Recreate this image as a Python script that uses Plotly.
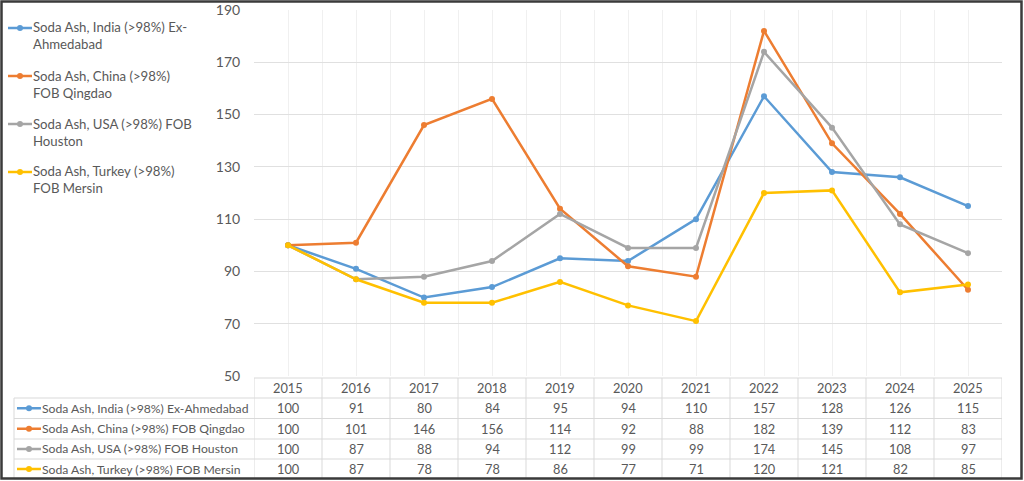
import plotly.graph_objects as go

years = [2015, 2016, 2017, 2018, 2019, 2020, 2021, 2022, 2023, 2024, 2025]
series_names = [
    "Soda Ash, India (>98%) Ex-Ahmedabad",
    "Soda Ash, China (>98%) FOB Qingdao",
    "Soda Ash, USA (>98%) FOB Houston",
    "Soda Ash, Turkey (>98%) FOB Mersin",
]
legend_labels = [
    "Soda Ash, India (>98%) Ex-<br>Ahmedabad",
    "Soda Ash, China (>98%)<br>FOB Qingdao",
    "Soda Ash, USA (>98%) FOB<br>Houston",
    "Soda Ash, Turkey (>98%)<br>FOB Mersin",
]
india = [100, 91, 80, 84, 95, 94, 110, 157, 128, 126, 115]
china = [100, 101, 146, 156, 114, 92, 88, 182, 139, 112, 83]
usa = [100, 87, 88, 94, 112, 99, 99, 174, 145, 108, 97]
turkey = [100, 87, 78, 78, 86, 77, 71, 120, 121, 82, 85]
y_ticks = [50, 70, 90, 110, 130, 150, 170, 190]

all_values = [india, china, usa, turkey]
colors = ["#5B9BD5", "#ED7D31", "#A5A5A5", "#FFC000"]

W, H = 1024, 481
L, R, T, B = 254, 1002, 10, 376  # plot area pixels
FONT = "Lato"
TXT = "#595959"
GRID_T = "#d9d9d9"
FS = 12.8


def px(x):
    return (x - L) / (R - L)


def py(y):
    return (B - y) / (B - T)


fig = go.Figure()
for name, vals, col in zip(series_names, all_values, colors):
    fig.add_trace(go.Scatter(
        x=years, y=vals, name=name, mode="lines+markers",
        line=dict(color=col, width=2.5),
        marker=dict(color=col, size=6),
        showlegend=False,
    ))

shapes = []
annotations = []

# manual legend at the left
for i, (lab, col) in enumerate(zip(legend_labels, colors)):
    yc = 28 + 48 * i
    shapes.append(dict(type="line", xref="paper", yref="paper",
                       x0=px(8), x1=px(32), y0=py(yc), y1=py(yc),
                       line=dict(color=col, width=2.5)))
    shapes.append(dict(type="circle", xref="paper", yref="paper",
                       x0=px(17), x1=px(23), y0=py(yc - 3), y1=py(yc + 3),
                       fillcolor=col, line=dict(color=col, width=0)))
    annotations.append(dict(xref="paper", yref="paper", x=px(31), y=py(yc - 10.5),
                            xanchor="left", yanchor="top", align="left",
                            text=lab, showarrow=False,
                            font=dict(family=FONT, size=13.2, color=TXT)))

# data table
row_edges = [378, 398, 418.5, 439, 459, 479]
for i, yv in enumerate(row_edges):
    x0 = L if i == 0 else 14
    shapes.append(dict(type="line", xref="paper", yref="paper",
                       x0=px(x0), x1=px(R), y0=py(yv), y1=py(yv),
                       line=dict(color=GRID_T, width=1)))
# vertical lines
shapes.append(dict(type="line", xref="paper", yref="paper",
                   x0=px(14), x1=px(14), y0=py(398), y1=py(479),
                   line=dict(color=GRID_T, width=1)))
for k in range(len(years) + 1):
    xv = years[0] - 0.5 + k
    shapes.append(dict(type="line", xref="x", yref="paper",
                       x0=xv, x1=xv, y0=py(378), y1=py(479),
                       line=dict(color=GRID_T, width=1)))

for yr in years:
    annotations.append(dict(xref="x", yref="paper", x=yr, y=py(388),
                            text=str(yr), showarrow=False,
                            xanchor="center", yanchor="middle",
                            font=dict(family=FONT, size=FS, color=TXT)))

for r, (name, vals, col) in enumerate(zip(series_names, all_values, colors)):
    yc = (row_edges[r + 1] + row_edges[r + 2]) / 2
    shapes.append(dict(type="line", xref="paper", yref="paper",
                       x0=px(17), x1=px(41), y0=py(yc), y1=py(yc),
                       line=dict(color=col, width=2.5)))
    shapes.append(dict(type="circle", xref="paper", yref="paper",
                       x0=px(26), x1=px(32), y0=py(yc - 3), y1=py(yc + 3),
                       fillcolor=col, line=dict(color=col, width=0)))
    annotations.append(dict(xref="paper", yref="paper", x=px(40), y=py(yc),
                            text=name, showarrow=False,
                            xanchor="left", yanchor="middle",
                            font=dict(family=FONT, size=12.2, color=TXT)))
    for yr, v in zip(years, vals):
        annotations.append(dict(xref="x", yref="paper", x=yr, y=py(yc),
                                text=str(v), showarrow=False,
                                xanchor="center", yanchor="middle",
                                font=dict(family=FONT, size=FS, color=TXT)))

# outer frame
shapes.append(dict(type="rect", xref="paper", yref="paper",
                   x0=px(1.5), x1=px(1021.5), y0=py(1.5), y1=py(478.5),
                   line=dict(color="#3a3a3a", width=2.5)))

fig.update_layout(
    width=W, height=H,
    margin=dict(l=L, r=W - R, t=T, b=H - B, autoexpand=False),
    paper_bgcolor="white", plot_bgcolor="white",
    font=dict(family=FONT, size=FS, color=TXT),
    xaxis=dict(range=[years[0] - 0.5, years[-1] + 0.5], tick0=years[0] - 0.5,
               dtick=0.5, showticklabels=False, showgrid=True,
               gridcolor="#f0f0f0", gridwidth=1, zeroline=False, showline=False,
               fixedrange=True, automargin=False),
    yaxis=dict(range=[y_ticks[0], y_ticks[-1]], tickvals=y_ticks,
               showgrid=True, gridcolor="#e0e0e0", gridwidth=1,
               zeroline=False, showline=False, ticks="outside", ticklen=10,
               tickcolor="rgba(0,0,0,0)", automargin=False,
               tickfont=dict(family=FONT, size=14, color=TXT), fixedrange=True),
    shapes=shapes,
    annotations=annotations,
)

fig.write_html(
    "out.html",
    config={"displayModeBar": False},
    post_script="document.body.style.margin='0';document.body.style.padding='0';",
)
